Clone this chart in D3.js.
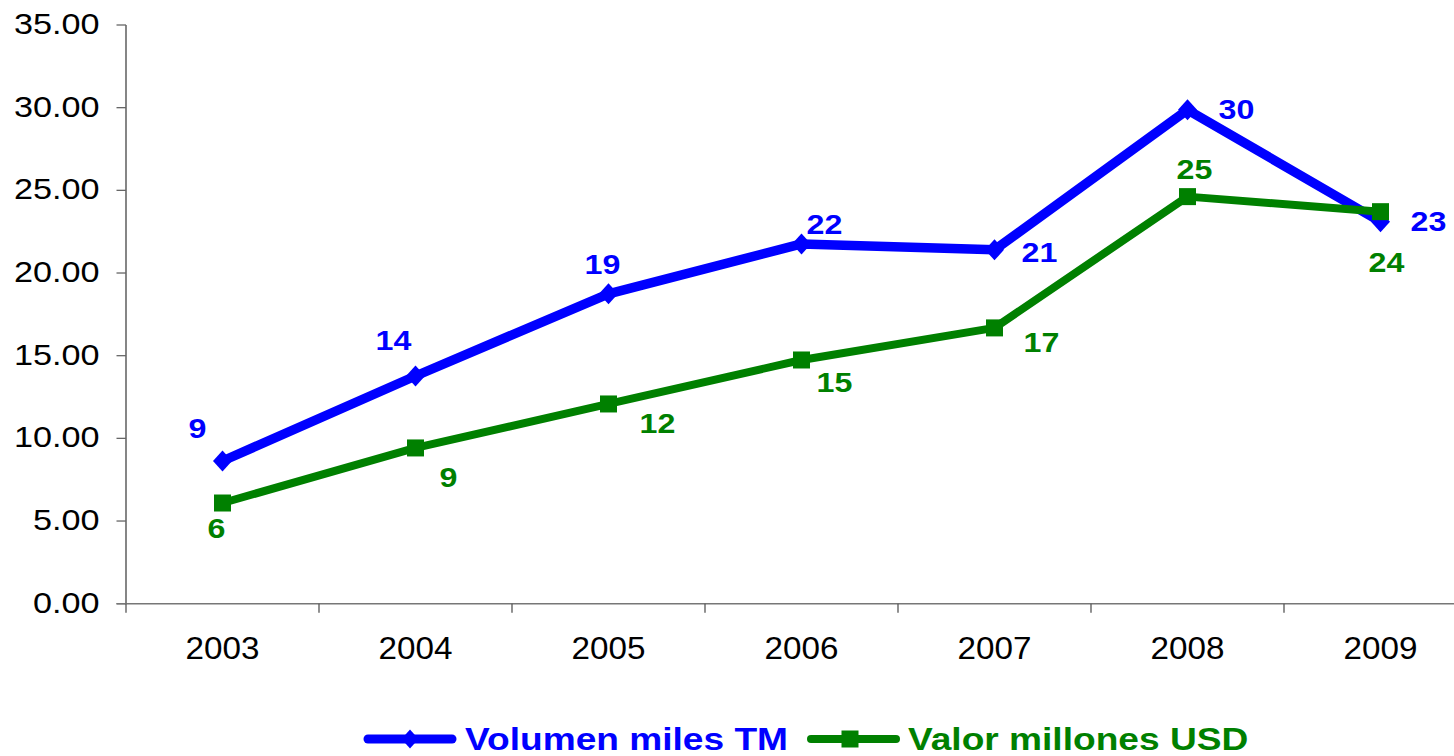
<!DOCTYPE html>
<html><head><meta charset="utf-8">
<script src="https://cdn.jsdelivr.net/npm/d3@7"></script>
<style>html,body{margin:0;padding:0;background:#fff;overflow:hidden}</style>
</head><body>
<svg id="c" width="1454" height="756"></svg>
<script>
const years = ["2003","2004","2005","2006","2007","2008","2009"];
const volumen = [8.63, 13.77, 18.74, 21.76, 21.40, 29.87, 23.10];
const valor = [6.09, 9.42, 12.08, 14.74, 16.68, 24.62, 23.71];
const volumenLabels = ["9","14","19","22","21","30","23"];
const valorLabels = ["6","9","12","15","17","25","24"];
const yTicks = [0, 5, 10, 15, 20, 25, 30, 35];
const seriesNames = ["Volumen miles TM", "Valor millones USD"];

const BLUE = "#0000FF", GREEN = "#008000";
const svg = d3.select("#c");
const plotLeft = 126, plotBottom = 603.7, plotTop = 25, bandW = 193;

const x = d3.scaleBand().domain(years).range([plotLeft, plotLeft + bandW * years.length]).padding(0);
const y = d3.scaleLinear().domain([0, 35]).range([plotBottom, plotTop]);
const cx = d => x(d) + x.bandwidth() / 2;

function stext(g, tx, ty, str, opts) {
  return g.append("text")
    .attr("transform", `translate(${tx},${ty}) scale(${opts.sx},1)`)
    .attr("text-anchor", opts.anchor || "middle")
    .attr("font-family", "Liberation Sans, Arial, sans-serif")
    .attr("font-size", opts.size)
    .attr("font-weight", opts.weight || "normal")
    .attr("fill", opts.fill || "#000")
    .text(str);
}

// Y axis
const ya = svg.append("g");
ya.append("line").attr("x1", plotLeft).attr("x2", plotLeft).attr("y1", y(35)).attr("y2", y(0))
  .attr("stroke", "#444").attr("stroke-width", 1.3);
yTicks.forEach(v => {
  ya.append("line").attr("x1", plotLeft - 9.5).attr("x2", plotLeft).attr("y1", y(v)).attr("y2", y(v))
    .attr("stroke", "#666").attr("stroke-width", 1.3);
  stext(ya, 99.5, y(v) + 9, d3.format(".2f")(v), {sx: 1.16, size: 29.5, anchor: "end"});
});

// X axis
const xa = svg.append("g");
xa.append("line").attr("x1", plotLeft - 9.5).attr("x2", 1454).attr("y1", plotBottom).attr("y2", plotBottom)
  .attr("stroke", "#777").attr("stroke-width", 1.5);
years.forEach(yr => {
  xa.append("line").attr("x1", x(yr)).attr("x2", x(yr)).attr("y1", plotBottom).attr("y2", plotBottom + 9)
    .attr("stroke", "#555").attr("stroke-width", 1.3);
  stext(xa, cx(yr), 659, yr, {sx: 1.09, size: 30.5});
});

// Lines
const line = d3.line().x((d, i) => cx(years[i])).y(d => y(d));
svg.append("path").datum(volumen).attr("d", line).attr("fill", "none")
  .attr("stroke", BLUE).attr("stroke-width", 9.5).attr("stroke-linejoin", "round");
svg.append("path").datum(valor).attr("d", line).attr("fill", "none")
  .attr("stroke", GREEN).attr("stroke-width", 8).attr("stroke-linejoin", "round");

function diamond(g, px, py, w, h, fill) {
  g.append("path").attr("d", `M${px},${py - h}L${px + w},${py}L${px},${py + h}L${px - w},${py}Z`).attr("fill", fill);
}
function square(g, px, py, s, fill) {
  g.append("rect").attr("x", px - s / 2).attr("y", py - s / 2).attr("width", s).attr("height", s).attr("fill", fill);
}
volumen.forEach((v, i) => diamond(svg, cx(years[i]), y(v), 9.5, 10.5, BLUE));
valor.forEach((v, i) => square(svg, cx(years[i]), y(v), 17, GREEN));

// Data labels (placement offsets relative to each point)
const volOff = [[-25,-23],[-22,-26],[-6,-20],[23,-10],[45,12],[49,9],[48,9]];
const valOff = [[-6,35],[33,39],[49,29],[33,32],[47,24],[7,-18],[6,60]];
volumen.forEach((v, i) => stext(svg, cx(years[i]) + volOff[i][0], y(v) + volOff[i][1], volumenLabels[i],
  {sx: 1.15, size: 28, weight: "bold", fill: BLUE}));
valor.forEach((v, i) => stext(svg, cx(years[i]) + valOff[i][0], y(v) + valOff[i][1], valorLabels[i],
  {sx: 1.15, size: 28, weight: "bold", fill: GREEN}));

// Legend
const lg = svg.append("g");
const ly = 739;
lg.append("line").attr("x1", 368).attr("x2", 452).attr("y1", ly).attr("y2", ly)
  .attr("stroke", BLUE).attr("stroke-width", 9).attr("stroke-linecap", "round");
diamond(lg, 410, ly, 8.5, 9.5, BLUE);
stext(lg, 465, 749.5, seriesNames[0], {sx: 1.16, size: 32, weight: "bold", fill: BLUE, anchor: "start"});
lg.append("line").attr("x1", 811).attr("x2", 896).attr("y1", ly).attr("y2", ly)
  .attr("stroke", GREEN).attr("stroke-width", 8).attr("stroke-linecap", "round");
square(lg, 850, ly, 17, GREEN);
stext(lg, 908, 749.5, seriesNames[1], {sx: 1.16, size: 32, weight: "bold", fill: GREEN, anchor: "start"});
</script>
</body></html>
